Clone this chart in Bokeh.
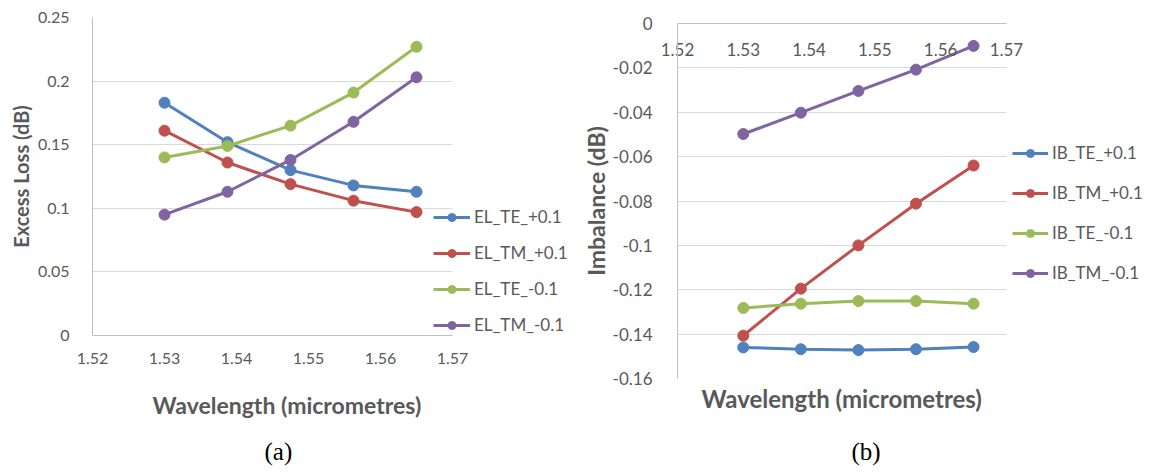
from bokeh.plotting import figure
from bokeh.layouts import row
from bokeh.models import FixedTicker, Legend, LegendItem, Title
from bokeh.embed import file_html
from bokeh.resources import INLINE

# ---------------- data ----------------
wavelength = [1.53, 1.53875, 1.5475, 1.55625, 1.565]

el_te_plus = [0.183, 0.152, 0.130, 0.118, 0.113]
el_tm_plus = [0.161, 0.136, 0.119, 0.106, 0.097]
el_te_minus = [0.140, 0.149, 0.165, 0.191, 0.227]
el_tm_minus = [0.095, 0.113, 0.138, 0.168, 0.203]

ib_te_plus = [-0.1460, -0.1468, -0.1472, -0.1468, -0.1458]
ib_tm_plus = [-0.1407, -0.1195, -0.1000, -0.0812, -0.0640]
ib_te_minus = [-0.1282, -0.1263, -0.1251, -0.1251, -0.1263]
ib_tm_minus = [-0.0498, -0.0402, -0.0304, -0.0208, -0.0101]

el_names = ["EL_TE_+0.1", "EL_TM_+0.1", "EL_TE_-0.1", "EL_TM_-0.1"]
ib_names = ["IB_TE_+0.1", "IB_TM_+0.1", "IB_TE_-0.1", "IB_TM_-0.1"]
colors = ["#4F81BD", "#C0504D", "#9BBB59", "#8064A2"]

x_ticks = [1.52, 1.53, 1.54, 1.55, 1.56, 1.57]
x_labels = ["1.52", "1.53", "1.54", "1.55", "1.56", "1.57"]
el_ticks = [0, 0.05, 0.1, 0.15, 0.2, 0.25]
el_labels = ["0", "0.05", "0.1", "0.15", "0.2", "0.25"]
ib_ticks = [0, -0.02, -0.04, -0.06, -0.08, -0.1, -0.12, -0.14, -0.16]
ib_labels = ["0", "-0.02", "-0.04", "-0.06", "-0.08", "-0.1", "-0.12", "-0.14", "-0.16"]

x_title = "Wavelength (micrometres)"

FONT = "Lato"
TXT = "#595959"
GRID = "#d9d9d9"
AXIS = "#bfbfbf"

X_BOUNDS = (x_ticks[0], x_ticks[-1])

# layout geometry (pixels)
H = 473
RIGHT = 2


def x_end(width, left, plot_w):
    frame_w = width - left - RIGHT
    return X_BOUNDS[0] + frame_w * (X_BOUNDS[1] - X_BOUNDS[0]) / plot_w


def style_axis(ax, size="16px"):
    ax.major_label_text_font = FONT
    ax.major_label_text_font_size = size
    ax.major_label_text_color = TXT
    ax.axis_label_text_font = FONT
    ax.axis_label_text_font_style = "bold"
    ax.axis_label_text_color = TXT
    ax.major_tick_line_color = None
    ax.minor_tick_line_color = None
    ax.axis_line_color = AXIS


def add_series(p, series, names, legend_loc, spacing, glyph_w):
    items = []
    for ys, name, c in zip(series, names, colors):
        lr = p.line(wavelength, ys, line_color=c, line_width=3)
        sr = p.scatter(wavelength, ys, size=11, fill_color=c, line_color=c)
        items.append(LegendItem(label=name, renderers=[lr, sr]))
    lg = Legend(items=items, location=legend_loc, orientation="vertical",
                border_line_color=None, background_fill_alpha=0,
                padding=0, margin=0, spacing=spacing,
                glyph_width=glyph_w, glyph_height=20, label_height=20,
                label_standoff=4, label_text_font=FONT,
                label_text_font_size="17px", label_text_color=TXT)
    p.add_layout(lg)


def axis_title(text, offset, standoff, size, pad):
    # pad is (left, right, top, bottom)
    t = Title(text=text, align="left", offset=offset, standoff=standoff,
              vertical_align="top", text_font=FONT, text_font_size=size,
              text_font_style="bold", text_color=TXT)
    try:
        t.padding = pad
    except Exception:
        pass
    return t


def caption(text, offset, standoff):
    return Title(text=text, align="left", offset=offset, standoff=standoff,
                 vertical_align="top",
                 text_font="Liberation Serif", text_font_size="25px",
                 text_font_style="normal", text_color="black")


def make_fig(width, left, plot_w, top, bottom, y_range, x_loc):
    p = figure(width=width, height=H,
               x_range=(X_BOUNDS[0], x_end(width, left, plot_w)), y_range=y_range,
               output_backend="svg", toolbar_location=None,
               x_axis_location=x_loc,
               min_border_left=left, min_border_right=RIGHT,
               min_border_top=top, min_border_bottom=H - bottom,
               outline_line_color=None, background_fill_color="white",
               border_fill_color="white")
    try:
        p.frame_align = False
    except Exception:
        pass
    p.xgrid.visible = False
    p.ygrid.grid_line_color = GRID
    p.ygrid.cross_bounds = X_BOUNDS
    return p


# ---------------- (a) Excess loss ----------------
# frame: page y 17..335, x 92..576 (1.52..1.57 spans 92..452)
pa = make_fig(578, 92, 360, 17, 335, (el_ticks[0], el_ticks[-1]), "below")
pa.xaxis.ticker = FixedTicker(ticks=x_ticks)
pa.xaxis.major_label_overrides = dict(zip(x_ticks, x_labels))
pa.xaxis.bounds = X_BOUNDS
pa.yaxis.ticker = FixedTicker(ticks=el_ticks)
pa.yaxis.major_label_overrides = dict(zip(el_ticks, el_labels))
style_axis(pa.xaxis[0])
style_axis(pa.yaxis[0])
pa.xaxis.major_label_standoff = 11
pa.yaxis.axis_label = "Excess Loss (dB)"
pa.yaxis.axis_label_text_font_size = "20px"
pa.yaxis.major_label_standoff = 17
pa.yaxis.axis_label_standoff = 2

add_series(pa, [el_te_plus, el_tm_plus, el_te_minus, el_tm_minus], el_names,
           (341, 0), 15, 37)
pa.add_layout(axis_title(x_title, 60, 33, "23px", (0, 0, 8, 0)), "below")
pa.add_layout(caption("(a)", 172, 0), "below")

# ---------------- (b) Imbalance ----------------
# frame: page y 23..378, x 674..1153 (1.52..1.57 spans 674..1005)
pb = make_fig(577, 96, 331, 23, 378, (ib_ticks[-1], ib_ticks[0]), "above")
pb.xaxis.ticker = FixedTicker(ticks=x_ticks)
pb.xaxis.major_label_overrides = dict(zip(x_ticks, x_labels))
pb.xaxis.bounds = X_BOUNDS
pb.yaxis.ticker = FixedTicker(ticks=ib_ticks)
pb.yaxis.major_label_overrides = dict(zip(ib_ticks, ib_labels))
style_axis(pb.xaxis[0], "17px")
style_axis(pb.yaxis[0], "17px")
pb.xaxis.major_label_standoff = -38
pb.yaxis.axis_label = "Imbalance (dB)"
pb.yaxis.axis_label_text_font_size = "23px"
pb.yaxis.major_label_standoff = 19
pb.yaxis.axis_label_standoff = 0

add_series(pb, [ib_te_plus, ib_tm_plus, ib_te_minus, ib_tm_minus], ib_names,
           (335, 95), 19, 36)
pb.add_layout(axis_title(x_title, 24, 10, "24px", (0, 0, 0, 18)), "below")
pb.add_layout(caption("(b)", 174, 0), "below")

layout = row(pa, pb)
open("out.html", "w").write(file_html(layout, INLINE))
